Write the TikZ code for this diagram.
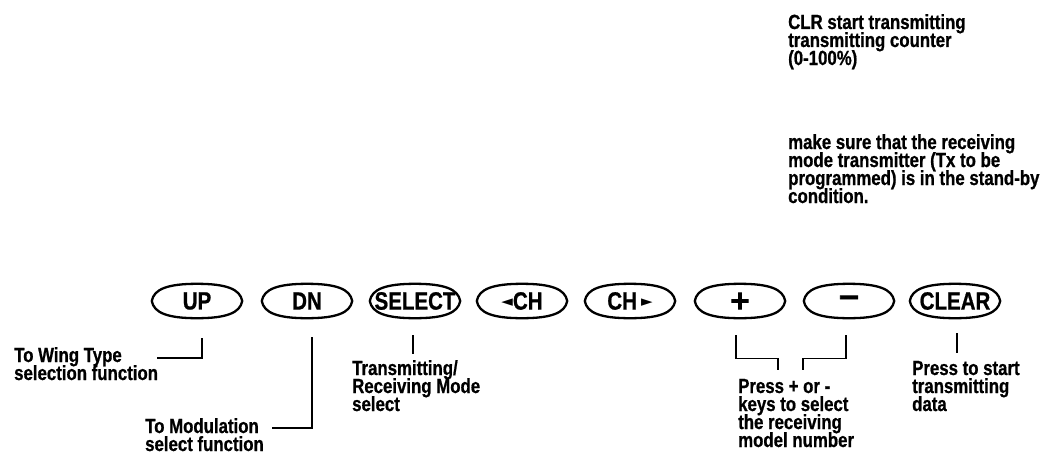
\documentclass[tikz,border=0pt]{standalone}
\usepackage{fontspec}
\setmainfont{Liberation Sans}
\newfontfamily\labfont{Liberation Sans}[FakeStretch=0.82, FakeBold=0.8]
\newfontfamily\symfont{DejaVu Sans}
\newfontfamily\heavysym{DejaVu Sans}[FakeBold=3]
\usetikzlibrary{calc}

% left-aligned block of lines with a fixed line pitch; baseline = first line
\newcommand\stack[1]{\vtop{\lineskiplimit=-20pt\baselineskip=18pt\halign{##\hfil\cr#1\crcr}}}

\tikzset{
  keycap/.style={minimum width=90pt, minimum height=34pt, inner sep=0pt,
    font=\labfont\bfseries\fontsize{25}{25}\selectfont},
  keyline/.style={line width=2.3pt, line join=round},
  lead/.style={line width=1.4pt},
  note/.style={anchor=base west, inner sep=0pt,
    font=\labfont\bfseries\fontsize{20.5}{18}\selectfont},
}

\begin{document}
\begin{tikzpicture}[x=1pt, y=-1pt]
\path[use as bounding box] (0,0) rectangle (1043,460);

% key caps
\node[keycap] (up)    at (197,301) {UP};
\node[keycap] (dn)    at (307,301) {DN};
\node[keycap] (sel)   at (415,301) {SELECT};
\node[keycap] (lch)   at (522,301) {{\symfont\fontsize{15}{15}\selectfont\raisebox{3pt}{◄}}CH};
\node[keycap] (rch)   at (630,301) {CH\,{\symfont\fontsize{15}{15}\selectfont\raisebox{3pt}{►}}};
\node[keycap] (plus)  at (740,301) {{\heavysym\bfseries\fontsize{26}{26}\selectfont +}};
\node[keycap] (minus) at (849,301) {{\heavysym\bfseries\fontsize{28}{28}\selectfont −}};
\node[keycap] (clr)   at (955,301) {CLEAR};

% lens-shaped outlines around the keys
\foreach \b in {up,dn,sel,lch,rch,plus,minus,clr}{
  \draw[keyline] (\b.west)
    .. controls ($(\b.west)+(2,-12)$) and ($(\b.north)+(-29,0)$) .. (\b.north)
    .. controls ($(\b.north)+(29,0)$) and ($(\b.east)+(-2,-12)$) .. (\b.east)
    .. controls ($(\b.east)+(-2,12)$) and ($(\b.south)+(29,0)$) .. (\b.south)
    .. controls ($(\b.south)+(-29,0)$) and ($(\b.west)+(2,12)$) .. (\b.west) -- cycle;
}

% notes
\node[note] (topnote) at (788,29) {\stack{CLR start transmitting\cr transmitting counter\cr (0-100\%)}};
\node[note] (standby) at (788,149) {\stack{make sure that the receiving\cr mode transmitter (Tx to be\cr programmed) is in the stand-by\cr condition.}};

\node[note] (wing) at (14,362) {\stack{To Wing Type\cr selection function}};
\node[note] (modu) at (145,433) {\stack{To Modulation\cr select function}};
\node[note] (mode) at (352,375) {\stack{Transmitting/\cr Receiving Mode\cr select}};
\node[note] (pm)   at (738,393) {\stack{Press + or -\cr keys to select\cr the receiving\cr model number}};
\node[note] (send) at (912,375) {\stack{Press to start\cr transmitting\cr data}};

% leader lines
\coordinate (wingEnd) at (157,358);
\coordinate (moduEnd) at (272,428);
\draw[lead] ($(up.south)+(5,20)$) |- (wingEnd);
\draw[lead] ($(dn.south)+(5,19)$) |- (moduEnd);
\draw[lead] ($(sel.south)+(-2,17)$) -- ($(sel.south)+(-2,36)$);
\draw[lead] ($(plus.south)+(-4,17)$) |- ($(plus.south)+(38,40)$) -- ($(plus.south)+(38,52)$);
\draw[lead] ($(minus.south)+(-3,17)$) |- ($(minus.south)+(-46,40)$) -- ($(minus.south)+(-46,52)$);
\draw[lead] ($(clr.south)+(2,15)$) -- ($(clr.south)+(2,35)$);
\end{tikzpicture}
\end{document}
